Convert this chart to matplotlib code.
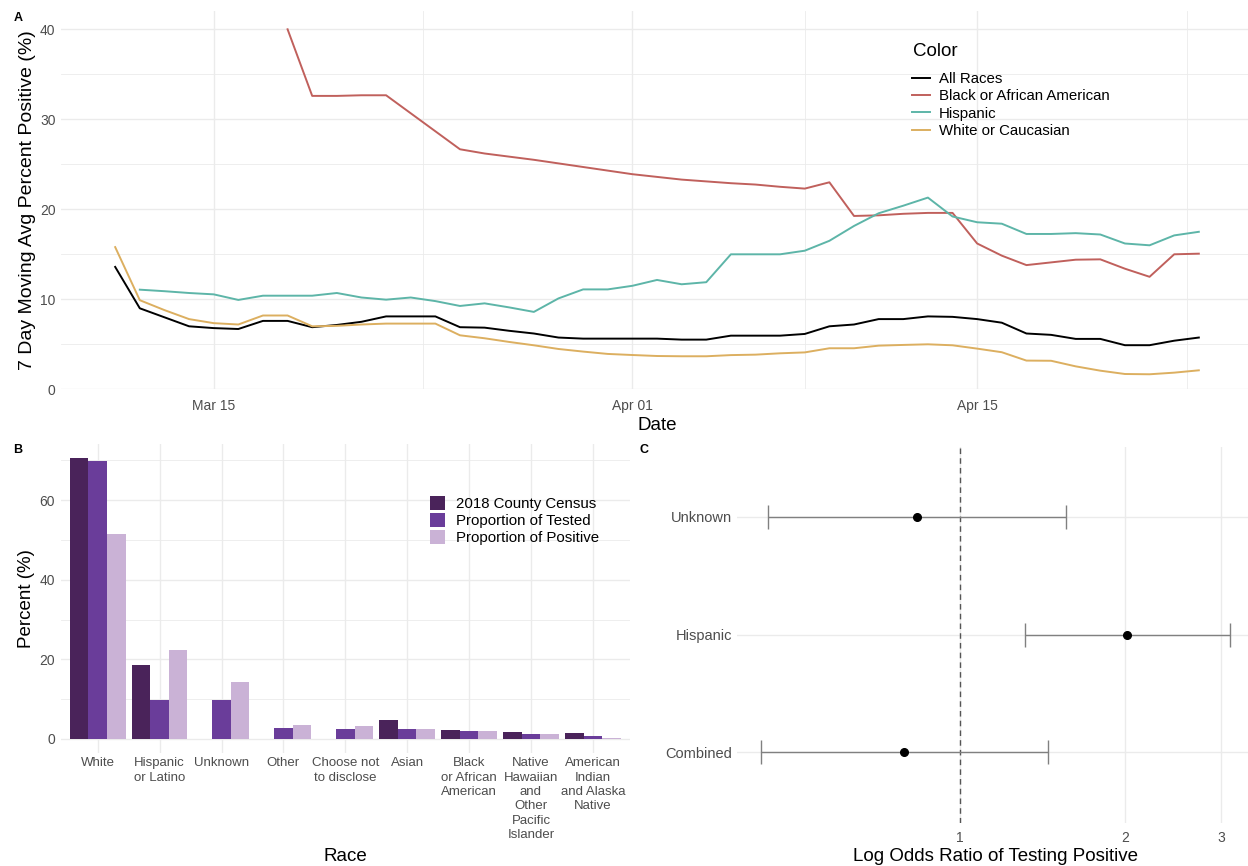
import numpy as np
import pandas as pd
import matplotlib
matplotlib.use("Agg")
import matplotlib.pyplot as plt
import matplotlib.dates as mdates
from matplotlib.ticker import FixedLocator, NullLocator

plt.rcParams['font.family'] = ['Liberation Sans', 'DejaVu Sans']

# --- panel A: 7 day moving average percent positive ---
dates = pd.date_range('2020-03-11', '2020-04-24', freq='D')
all_races = [13.6, 9.0, 8.0, 7.0, 6.8, 6.7, 7.6, 7.6, 6.9, 7.15,
             7.5, 8.1, 8.1, 8.1, 6.9, 6.85, 6.5, 6.2, 5.75, 5.63,
             5.63, 5.63, 5.63, 5.52, 5.52, 5.96, 5.96, 5.96, 6.15, 7.0,
             7.2, 7.8, 7.8, 8.1, 8.05, 7.8, 7.4, 6.2, 6.05, 5.6,
             5.6, 4.9, 4.9, 5.4, 5.75]
black_aa = [np.nan, np.nan, np.nan, np.nan, np.nan, np.nan, np.nan, 40.0, 32.6, 32.6,
            32.67, 32.67, 30.67, 28.67, 26.67, 26.2, 25.85, 25.5, 25.1, 24.7,
            24.3, 23.9, 23.6, 23.3, 23.1, 22.9, 22.75, 22.5, 22.3, 23.0,
            19.26, 19.33, 19.5, 19.6, 19.6, 16.2, 14.85, 13.8, 14.1, 14.4,
            14.44, 13.4, 12.5, 15.0, 15.07]
hispanic = [np.nan, 11.07, 10.9, 10.7, 10.55, 9.93, 10.4, 10.4, 10.4, 10.7,
            10.2, 9.96, 10.2, 9.8, 9.26, 9.55, 9.1, 8.6, 10.1, 11.1,
            11.1, 11.5, 12.15, 11.67, 11.9, 15.0, 15.0, 15.0, 15.4, 16.5,
            18.15, 19.56, 20.4, 21.3, 19.2, 18.56, 18.4, 17.26, 17.26, 17.35,
            17.2, 16.2, 16.0, 17.1, 17.5]
white_cauc = [15.8, 9.9, 8.8, 7.8, 7.35, 7.2, 8.2, 8.2, 7.0, 7.05,
              7.2, 7.3, 7.3, 7.3, 6.0, 5.67, 5.26, 4.89, 4.48, 4.19,
              3.93, 3.81, 3.7, 3.67, 3.67, 3.8, 3.85, 4.0, 4.1, 4.56,
              4.56, 4.85, 4.93, 5.0, 4.89, 4.52, 4.12, 3.19, 3.17, 2.55,
              2.07, 1.7, 1.67, 1.85, 2.11]
line_names = ["All Races", "Black or African American", "Hispanic", "White or Caucasian"]
line_colors = ["black", "#C0605C", "#5DB5A8", "#DCAF60"]

# --- panel B: race distribution ---
races = ["White", "Hispanic\nor Latino", "Unknown", "Other", "Choose not\nto disclose",
         "Asian", "Black\nor African\nAmerican",
         "Native\nHawaiian\nand\nOther\nPacific\nIslander",
         "American\nIndian\nand Alaska\nNative"]
census = [70.5, 18.7, 0.0, 0.0, 0.0, 4.65, 2.18, 1.76, 1.5]
tested = [69.8, 9.8, 9.8, 2.78, 2.5, 2.43, 1.93, 1.26, 0.75]
positive = [51.4, 22.3, 14.3, 3.42, 3.26, 2.43, 1.93, 1.26, 0.33]
bar_names = ["2018 County Census", "Proportion of Tested", "Proportion of Positive"]
bar_colors = ["#4A235A", "#6A3D9A", "#CAB2D6"]

# --- panel C: odds ratios ---
groups = ["Combined", "Hispanic", "Unknown"]
odds = [0.789, 2.021, 0.834]
odds_lo = [0.432, 1.313, 0.446]
odds_hi = [1.445, 3.117, 1.563]

W, H = 1248, 866
fig = plt.figure(figsize=(W / 100, H / 100), dpi=100)


def px_axes(left, top, right, bottom):
    return fig.add_axes([left / W, 1 - bottom / H, (right - left) / W, (bottom - top) / H])


def minimal(ax, size=10):
    for s in ax.spines.values():
        s.set_visible(False)
    ax.tick_params(which='both', length=0, labelcolor='#4D4D4D', labelsize=size)
    ax.grid(True, which='major', color='#EBEBEB', lw=1.0)
    ax.grid(True, which='minor', color='#EBEBEB', lw=0.6)
    ax.set_axisbelow(True)


# panel A
axA = px_axes(61, 11.3, 1253, 389.3)
minimal(axA)
for vals, name, col in zip([all_races, black_aa, hispanic, white_cauc], line_names, line_colors):
    axA.plot(dates, vals, color=col, lw=1.4, label=name)
pad = pd.Timedelta(days=0.05 * (dates[-1] - dates[0]).days)
axA.set_xlim(dates[0] - pad, dates[-1] + pad)
axA.set_ylim(0, 42)
major_days = pd.to_datetime(['2020-03-15', '2020-04-01', '2020-04-15'])
minor_days = pd.to_datetime(['2020-03-23 12:00', '2020-04-08 00:00', '2020-04-23 12:00'])
axA.xaxis.set_major_locator(FixedLocator(mdates.date2num(major_days)))
axA.xaxis.set_minor_locator(FixedLocator(mdates.date2num(minor_days)))
axA.xaxis.set_major_formatter(mdates.DateFormatter('%b %d'))
axA.set_yticks([0, 10, 20, 30, 40])
axA.set_yticks([5, 15, 25, 35], minor=True)
axA.tick_params(axis='x', pad=7)
axA.tick_params(axis='y', pad=4)
axA.set_xlabel("Date", fontsize=13.5, labelpad=3)
axA.set_ylabel("7 Day Moving Avg Percent Positive (%)", fontsize=14, labelpad=3)
fig.text(913 / W, 1 - 52 / H, "Color", fontsize=13.5, ha='left', va='center')
axA.legend(loc='upper left', bbox_to_anchor=(912 / W, 1 - 72 / H),
           bbox_transform=fig.transFigure, frameon=False, fontsize=10.8,
           handlelength=1.2, handletextpad=0.6, labelspacing=0.22, borderpad=0,
           borderaxespad=0)

# panel B
axB = px_axes(60.6, 444.4, 630, 753)
minimal(axB)
x = np.arange(len(races))
for i, (vals, name, col) in enumerate(zip([census, tested, positive], bar_names, bar_colors)):
    axB.bar(x + (i - 1) * 0.3, vals, width=0.3, color=col, label=name, lw=0)
ymax = max(census + tested + positive)
axB.set_ylim(-0.05 * ymax, 1.05 * ymax)
axB.set_xlim(-0.6, len(races) - 0.4)
axB.set_xticks(x)
axB.set_xticklabels(races, fontsize=9.5, linespacing=1.27)
axB.set_yticks([0, 20, 40, 60])
axB.set_yticks([10, 30, 50, 70], minor=True)
axB.tick_params(axis='x', pad=3)
axB.tick_params(axis='y', pad=4)
axB.set_xlabel("Race", fontsize=13.5, labelpad=5)
axB.set_ylabel("Percent (%)", fontsize=13.5, labelpad=3)
axB.legend(loc='upper left', bbox_to_anchor=(430 / W, 1 - 496 / H),
           bbox_transform=fig.transFigure, frameon=False, fontsize=10.8,
           handlelength=1.0, handleheight=1.1, handletextpad=0.7, labelspacing=0.1,
           borderpad=0, borderaxespad=0)

# panel C
axC = px_axes(737.4, 446.5, 1253.9, 822.5)
minimal(axC, size=10.5)
axC.grid(False, which='minor')
yp = np.arange(len(groups))
odds_a = np.array(odds)
xerr = [odds_a - np.array(odds_lo), np.array(odds_hi) - odds_a]
axC.errorbar(odds, yp, xerr=xerr, fmt='o', color='black', ms=5.5, ecolor='#808080',
             elinewidth=1.0, capsize=8.5, capthick=1.0, zorder=3)
axC.set_xscale('log')
lo, hi = np.log(min(odds_lo)), np.log(max(odds_hi))
axC.set_xlim(np.exp(lo - 0.05 * (hi - lo)), np.exp(hi + 0.05 * (hi - lo)))
axC.axvline(1, color='#555555', lw=1.0, ls=(0, (4, 3)), zorder=2)
axC.xaxis.set_major_locator(FixedLocator([1, 2, 3]))
axC.xaxis.set_minor_locator(NullLocator())
axC.set_xticklabels(["1", "2", "3"], fontsize=10)
axC.set_yticks(yp)
axC.set_yticklabels(groups)
axC.set_ylim(-0.6, len(groups) - 0.4)
axC.tick_params(axis='x', pad=6)
axC.tick_params(axis='y', pad=4)
axC.set_xlabel("Log Odds Ratio of Testing Positive", fontsize=13.5, labelpad=2)

for lab, px, py in [("A", 18, 18), ("B", 18, 450), ("C", 644, 450)]:
    fig.text(px / W, 1 - py / H, lab, fontsize=9, fontweight='bold', ha='center', va='center')

plt.savefig("out.png", dpi=100)
